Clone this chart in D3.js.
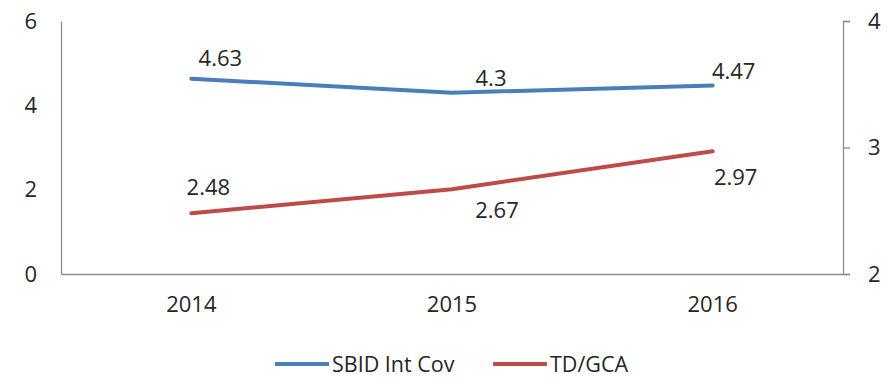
<!DOCTYPE html>
<html>
<head>
<meta charset="utf-8">
<script src="https://cdn.jsdelivr.net/npm/d3@7"></script>
<style>
  html, body { margin: 0; padding: 0; background: #fff; }
  svg { display: block; }
  text { font-family: "Open Sans", "Noto Sans", sans-serif; fill: #262626; }
</style>
</head>
<body>
<svg id="chart" width="890" height="377"></svg>
<script>
// Chart data
const years = ["2014", "2015", "2016"];
const sbidIntCov = [4.63, 4.3, 4.47];   // left axis
const tdGca = [2.48, 2.67, 2.97];       // right axis
const leftTicks = [0, 2, 4, 6];
const rightTicks = [2, 3, 4];
const seriesNames = ["SBID Int Cov", "TD/GCA"];

// Label nudges (pixels from each point) so the labels sit clear of the lines
const sbidLabelShift = [[29, -22], [39, -16], [21, -16]];
const tdLabelShift = [[17, -27], [45, 20], [23, 25]];

const colors = { sbid: "#4A7EBB", td: "#BE4B48", axis: "#8c8c8c" };
const fontSize = 22;

const svg = d3.select("#chart");
const plotLeft = 61, plotRight = 843, plotTop = 21, plotBottom = 274;

const x = d3.scaleBand().domain(years).range([plotLeft, plotRight]);
const yL = d3.scaleLinear().domain([0, 6]).range([plotBottom, plotTop]);
const yR = d3.scaleLinear().domain([2, 4]).range([plotBottom, plotTop]);
const cx = d => x(d) + x.bandwidth() / 2;

// Left axis (line only, labels without tick marks)
const gL = svg.append("g").attr("transform", `translate(${plotLeft},0)`)
  .call(d3.axisLeft(yL).tickValues(leftTicks).tickSize(0).tickPadding(24).tickFormat(d3.format("d")));
gL.select(".domain").attr("stroke", colors.axis).attr("stroke-width", 1.3);
gL.selectAll("text").attr("font-size", fontSize).attr("fill", "#262626")
  .style("font-family", "'Open Sans', sans-serif");

// Right axis with short outward ticks
const gR = svg.append("g").attr("transform", `translate(${plotRight},0)`)
  .call(d3.axisRight(yR).tickValues(rightTicks).tickSize(7).tickSizeOuter(7).tickPadding(18).tickFormat(d3.format("d")));
gR.select(".domain").attr("stroke", colors.axis).attr("stroke-width", 1.3);
gR.selectAll(".tick line").attr("stroke", colors.axis).attr("stroke-width", 1.3);
gR.selectAll("text").attr("font-size", fontSize).attr("fill", "#262626")
  .style("font-family", "'Open Sans', sans-serif");

// Category axis along the bottom
const gX = svg.append("g").attr("transform", `translate(0,${plotBottom})`)
  .call(d3.axisBottom(x).tickSize(0).tickPadding(22));
gX.select(".domain").attr("stroke", colors.axis).attr("stroke-width", 1.3);
gX.selectAll("text").attr("font-size", fontSize).attr("fill", "#262626")
  .style("font-family", "'Open Sans', sans-serif");

// Lines
const lineL = d3.line().x((d, i) => cx(years[i])).y(d => yL(d));
const lineR = d3.line().x((d, i) => cx(years[i])).y(d => yR(d));

svg.append("path").datum(sbidIntCov).attr("d", lineL)
  .attr("fill", "none").attr("stroke", colors.sbid).attr("stroke-width", 4).attr("stroke-linecap", "round");
svg.append("path").datum(tdGca).attr("d", lineR)
  .attr("fill", "none").attr("stroke", colors.td).attr("stroke-width", 4).attr("stroke-linecap", "round");

// Value labels
function addLabels(values, scale, shifts) {
  svg.append("g").selectAll("text").data(values).join("text")
    .attr("x", (d, i) => cx(years[i]) + shifts[i][0])
    .attr("y", (d, i) => scale(d) + shifts[i][1])
    .attr("text-anchor", "middle")
    .attr("dominant-baseline", "central")
    .attr("font-size", fontSize)
    .text(d => d);
}
addLabels(sbidIntCov, yL, sbidLabelShift);
addLabels(tdGca, yR, tdLabelShift);

// Legend
const legendY = 363;
const legend = svg.append("g");
const legendItems = [
  { name: seriesNames[0], color: colors.sbid, x0: 275 },
  { name: seriesNames[1], color: colors.td, x0: 493 }
];
legendItems.forEach(it => {
  legend.append("line").attr("x1", it.x0).attr("x2", it.x0 + 54)
    .attr("y1", legendY + 1).attr("y2", legendY + 1)
    .attr("stroke", it.color).attr("stroke-width", 4);
  legend.append("text").attr("x", it.x0 + 57).attr("y", legendY)
    .attr("dominant-baseline", "central").attr("font-size", 21.5)
    .text(it.name);
});
</script>
</body>
</html>
